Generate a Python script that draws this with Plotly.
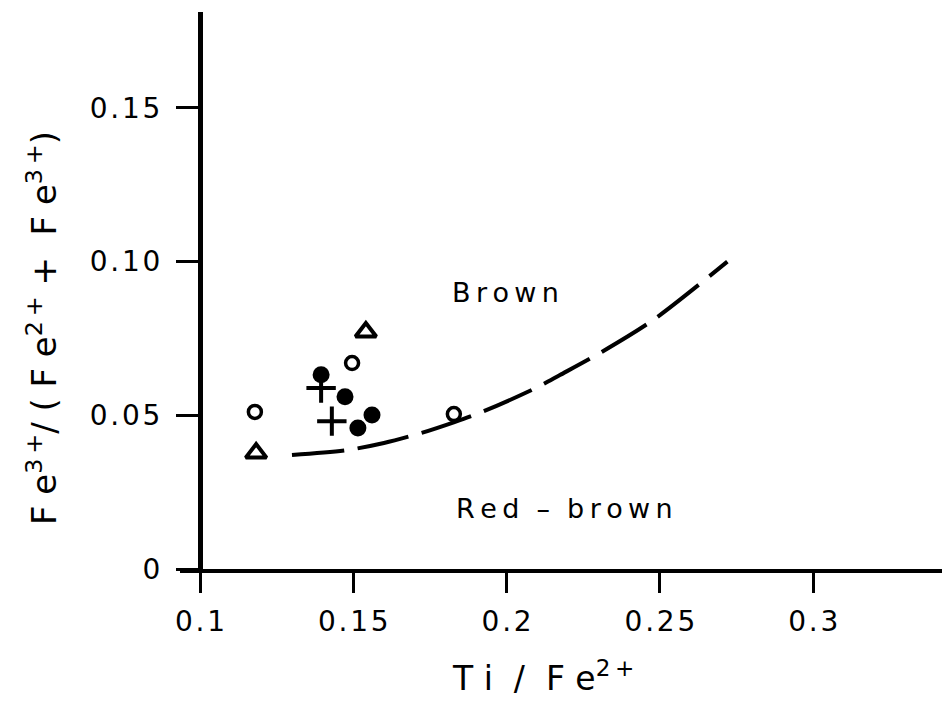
import plotly.graph_objects as go

# ---- data ----
open_circle_x = [0.1179, 0.1496, 0.1828]
open_circle_y = [0.0511, 0.0670, 0.0504]

filled_circle_x = [0.1395, 0.1473, 0.1561, 0.1515]
filled_circle_y = [0.0632, 0.0560, 0.0501, 0.0459]

triangle_x = [0.1541, 0.1183]
triangle_y = [0.0771, 0.0377]

plus_x = [0.1395, 0.1430]
plus_y = [0.0589, 0.0481]

boundary_x = [0.130, 0.148, 0.160, 0.172, 0.183, 0.192, 0.2096, 0.2174, 0.2305, 0.2478, 0.272]
boundary_y = [0.0371, 0.0387, 0.0410, 0.0442, 0.0478, 0.0511, 0.0589, 0.0631, 0.0703, 0.0810, 0.1000]

x_tickvals = [0.1, 0.15, 0.2, 0.25, 0.3]
x_ticktext = ["0.1", "0.15", "0.2", "0.25", "0.3"]
y_tickvals = [0, 0.05, 0.10, 0.15]
y_ticktext = ["0", "0.05", "0.10", "0.15"]

FONT = "DejaVu Sans"
TS = "\u2009"  # thin space for letter spacing
HS = "\u200a"  # hair space


def spaced(s, sep=TS):
    return sep.join(list(s))


fig = go.Figure()

fig.add_trace(go.Scatter(
    x=boundary_x, y=boundary_y, mode="lines",
    line=dict(color="black", width=4, dash="52px,14px", shape="spline", smoothing=0.8),
    hoverinfo="skip"))

fig.add_trace(go.Scatter(
    x=open_circle_x, y=open_circle_y, mode="markers",
    marker=dict(symbol="circle-open", size=13, color="black", line=dict(width=3.5))))
fig.add_trace(go.Scatter(
    x=filled_circle_x, y=filled_circle_y, mode="markers",
    marker=dict(symbol="circle", size=17, color="black")))
fig.add_trace(go.Scatter(
    x=triangle_x, y=triangle_y, mode="markers",
    marker=dict(symbol="triangle-up-open", size=18, color="black", line=dict(width=4))))
fig.add_trace(go.Scatter(
    x=plus_x, y=plus_y, mode="markers",
    marker=dict(symbol="cross-thin-open", size=21, color="black", line=dict(width=4))))

fig.add_annotation(x=0.1995, y=0.0901, text=spaced("Brown"), showarrow=False,
                   font=dict(family=FONT, size=27, color="black"))
fig.add_annotation(x=0.219, y=0.0198,
                   text=spaced("Red") + "  –  " + spaced("brown"), showarrow=False,
                   font=dict(family=FONT, size=27, color="black"))

fig.add_annotation(xref="paper", yref="paper", x=(543 - 180) / 762, y=-(700 - 569) / 557,
                   text="T i  /  F e<sup>2" + TS + "+</sup>",
                   showarrow=False,
                   font=dict(family=FONT, size=33, color="black"))
fig.add_annotation(xref="paper", yref="paper", x=-(180 - 18) / 762, y=(569 - 328) / 557,
                   text="F e<sup>3" + TS + "+</sup>/ ( F e<sup>2" + TS + "+</sup> +  F e<sup>3" + TS + "+</sup>)",
                   textangle=-90, showarrow=False,
                   font=dict(family=FONT, size=34, color="black"))

fig.update_layout(
    width=942, height=701,
    margin=dict(l=180, r=0, t=12, b=132),
    paper_bgcolor="white", plot_bgcolor="white",
    showlegend=False,
    font=dict(family=FONT, color="black"),
    xaxis=dict(
        range=[0.1 - 20 / 3066, 0.1 + 742 / 3066],
        tickvals=x_tickvals, ticktext=[spaced(t, HS) for t in x_ticktext],
        showgrid=False, zeroline=False,
        showline=True, linecolor="black", linewidth=4,
        ticks="outside", ticklen=20, tickwidth=3, tickcolor="black",
        ticklabelstandoff=4,
        tickfont=dict(family=FONT, size=28, color="black"),
    ),
    yaxis=dict(
        range=[0, 557 / 3074],
        tickvals=y_tickvals, ticktext=[spaced(t, HS) for t in y_ticktext],
        anchor="free", position=20 / 762,
        showgrid=False, zeroline=False,
        showline=True, linecolor="black", linewidth=5,
        ticks="outside", ticklen=22, tickwidth=3, tickcolor="black",
        ticklabelstandoff=10,
        tickfont=dict(family=FONT, size=28, color="black"),
    ),
)

fig.write_html("out.html")
